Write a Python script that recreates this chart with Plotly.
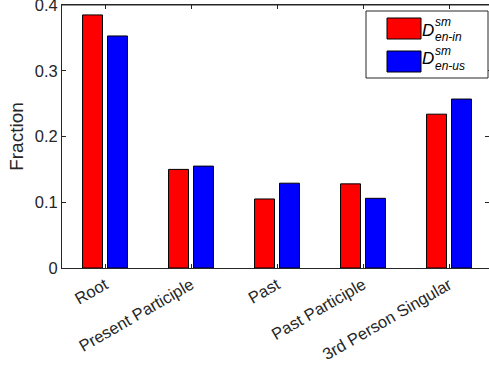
import plotly.graph_objects as go

categories = ["Root", "Present Participle", "Past", "Past Participle", "3rd Person Singular"]
en_in = [0.385, 0.150, 0.105, 0.128, 0.234]
en_us = [0.353, 0.155, 0.129, 0.106, 0.257]
yticks = [0, 0.1, 0.2, 0.3, 0.4]
ytick_labels = ["0", "0.1", "0.2", "0.3", "0.4"]

W, H = 489, 371
L, R, T, B = 62, 0, 5, 103
PW, PH = W - L - R, H - T - B

def px(x):
    return (x - L) / PW

def py(y):
    return (H - B - y) / PH

axcol = "#262626"
font = "Liberation Sans, Arial, Helvetica, sans-serif"

fig = go.Figure()
fig.add_trace(go.Bar(x=categories, y=en_in, marker=dict(color="#ff0000", line=dict(color="black", width=1)), showlegend=False))
fig.add_trace(go.Bar(x=categories, y=en_us, marker=dict(color="#0000ff", line=dict(color="black", width=1)), showlegend=False))
fig.add_trace(go.Scatter(x=[categories[0]], y=[0], yaxis="y2", mode="markers", marker=dict(opacity=0), showlegend=False, hoverinfo="skip"))

fig.update_layout(
    width=W, height=H,
    margin=dict(l=L, r=R, t=T, b=B, autoexpand=False),
    plot_bgcolor="white", paper_bgcolor="white",
    barmode="group", bargap=0.42, bargroupgap=0.2,
    font=dict(family=font, size=16.5, color=axcol),
    xaxis=dict(range=[-0.5, 4.465], showline=True, linecolor=axcol, linewidth=1, mirror="ticks",
               ticks="inside", ticklen=4, tickcolor=axcol, tickangle=-30, showgrid=False,
               automargin=False, tickfont=dict(size=16.5, color=axcol)),
    yaxis=dict(range=[0, 0.4001], tickvals=yticks, ticktext=ytick_labels,
               showline=True, linecolor=axcol, linewidth=1, mirror=False,
               ticks="inside", ticklen=4, tickcolor=axcol, showgrid=False, zeroline=False,
               automargin=False, ticklabeloverflow="allow",
               title=dict(text="Fraction", font=dict(size=19, color=axcol), standoff=6),
               tickfont=dict(size=16.5, color=axcol)),
    yaxis2=dict(range=[0, 0.4001], tickvals=yticks, overlaying="y", side="right", anchor="x",
                showticklabels=False, ticks="inside", ticklen=4, tickcolor=axcol,
                showgrid=False, zeroline=False, showline=False, automargin=False),
)

shapes = [
    dict(type="line", xref="paper", yref="paper", x0=0, x1=1, y0=1, y1=1,
         line=dict(color=axcol, width=1), layer="above"),
    dict(type="rect", xref="paper", yref="paper", x0=px(366), x1=px(488), y0=py(78), y1=py(11),
         fillcolor="white", line=dict(color=axcol, width=1), layer="above"),
    dict(type="rect", xref="paper", yref="paper", x0=px(387), x1=px(421), y0=py(39), y1=py(18),
         fillcolor="#ff0000", line=dict(color="black", width=1), layer="above"),
    dict(type="rect", xref="paper", yref="paper", x0=px(387), x1=px(421), y0=py(72), y1=py(51),
         fillcolor="#0000ff", line=dict(color="black", width=1), layer="above"),
]
fig.update_layout(shapes=shapes)

def ann(text, x, y, size):
    fig.add_annotation(text=text, xref="paper", yref="paper", x=px(x), y=py(y),
                       xanchor="left", yanchor="middle", showarrow=False,
                       font=dict(family=font, size=size, color="black"))

for yy, sub in [(0, "en-in"), (29, "en-us")]:
    ann("<i>D</i>", 420, 30 + yy, 17)
    ann("<i>sm</i>", 433, 22 + yy, 12)
    ann("<i>" + sub + "</i>", 433, 37 + yy, 12)

fig.write_html("out.html", config={"displayModeBar": False},
               post_script="document.body.style.margin='0';document.body.style.overflow='hidden';")
